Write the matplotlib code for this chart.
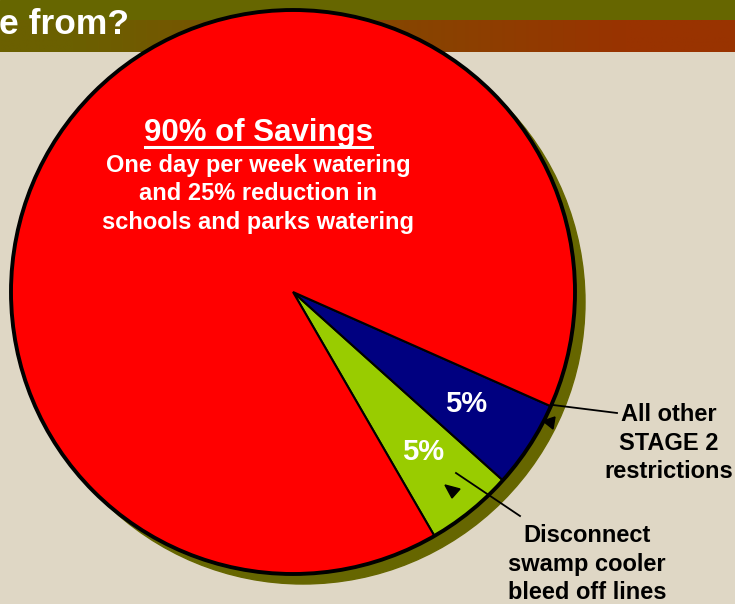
import numpy as np
import matplotlib
matplotlib.use("Agg")
import matplotlib.pyplot as plt
from matplotlib.patches import Circle, Polygon, Rectangle

plt.rcParams['font.family'] = ['Liberation Sans', 'DejaVu Sans']

# data (slice order: green, blue, red; counterclockwise from start angle)
labels = ['Disconnect\nswamp cooler\nbleed off lines', 'All other\nSTAGE 2\nrestrictions', 'One day per week watering']
values = [5, 5, 90]
colors = ['#99CC00', '#000080', '#FF0000']
title_txt = 'e from?'
big_title = '90% of Savings'
big_sub = 'One day per week watering\nand 25% reduction in\nschools and parks watering'

W, H = 735, 604
fig = plt.figure(figsize=(W / 100, H / 100), dpi=100)
fig.patch.set_facecolor('#DFD7C5')
ax = fig.add_axes([0, 0, 1, 1])
ax.set_facecolor('#DFD7C5')

# header bands
ax.add_patch(Rectangle((0, H - 20), W, 20, color='#666600', zorder=1))
grad = np.linspace(0, 1, 400)
grad = np.clip((grad - 0.1) / 0.75, 0, 1)
c0 = np.array([0x6B, 0x60, 0x00]) / 255
c1 = np.array([0x99, 0x33, 0x00]) / 255
img = (c0[None, :] * (1 - grad[:, None]) + c1[None, :] * grad[:, None])[None, :, :]
ax.imshow(img, extent=[0, W, H - 52, H - 20], aspect='auto', zorder=1)
ax.text(-1, H - 24, title_txt, color='white', fontsize=25.5, fontweight='bold',
        ha='left', va='center', zorder=2)

cx, cy, R = 293, H - 292, 282

# shadow
ax.add_patch(Circle((cx + 10, cy - 10), R, color='#666600', zorder=3))

wedges, texts, autotexts = ax.pie(
    values, colors=colors, startangle=-59.9, center=(cx, cy), radius=R,
    autopct='%d%%', pctdistance=0.73, frame=True,
    wedgeprops=dict(edgecolor='black', linewidth=1.5),
    textprops=dict(color='white', fontsize=21, fontweight='bold'))
for w in wedges:
    w.set_zorder(4)
for t in autotexts:
    t.set_zorder(6)
autotexts[2].set_text('')
ax.add_patch(Circle((cx, cy), R, fill=False, edgecolor='black', linewidth=2.8, zorder=5))

# red slice label
t1 = ax.text(259, H - 133, big_title, color='white', fontsize=22.5, fontweight='bold',
             ha='center', va='center', zorder=6)
ax.text(258, H - 194, big_sub, color='white', fontsize=17, fontweight='bold',
        ha='center', va='center', linespacing=1.32, zorder=6)

# callouts
ax.text(669, H - 443, labels[1], color='black', fontsize=17, fontweight='bold',
        ha='center', va='center', linespacing=1.3, zorder=6)
ax.text(587, H - 564, labels[0], color='black', fontsize=17, fontweight='bold',
        ha='center', va='center', linespacing=1.3, zorder=6)
ax.plot([553, 617], [H - 405, H - 413], color='black', lw=1.3, zorder=6)
ax.plot([456, 520], [H - 473, H - 516], color='black', lw=1.3, zorder=6)
ax.add_patch(Polygon([(555, H - 417), (543, H - 421), (553, H - 429)], color='black', zorder=6))
ax.add_patch(Polygon([(445, H - 485), (460, H - 489), (452, H - 498)], color='black', zorder=6))

ax.set_xlim(0, W)
ax.set_ylim(0, H)
ax.set_aspect('auto')
ax.axis('off')

# underline for the big title
fig.canvas.draw()
bb = t1.get_window_extent().transformed(ax.transData.inverted())
ax.plot([bb.x0 + 1, bb.x1 - 1], [bb.y0 + 1, bb.y0 + 1], color='white', lw=2.2, zorder=6)

fig.savefig('out.png', dpi=100, facecolor=fig.get_facecolor())
